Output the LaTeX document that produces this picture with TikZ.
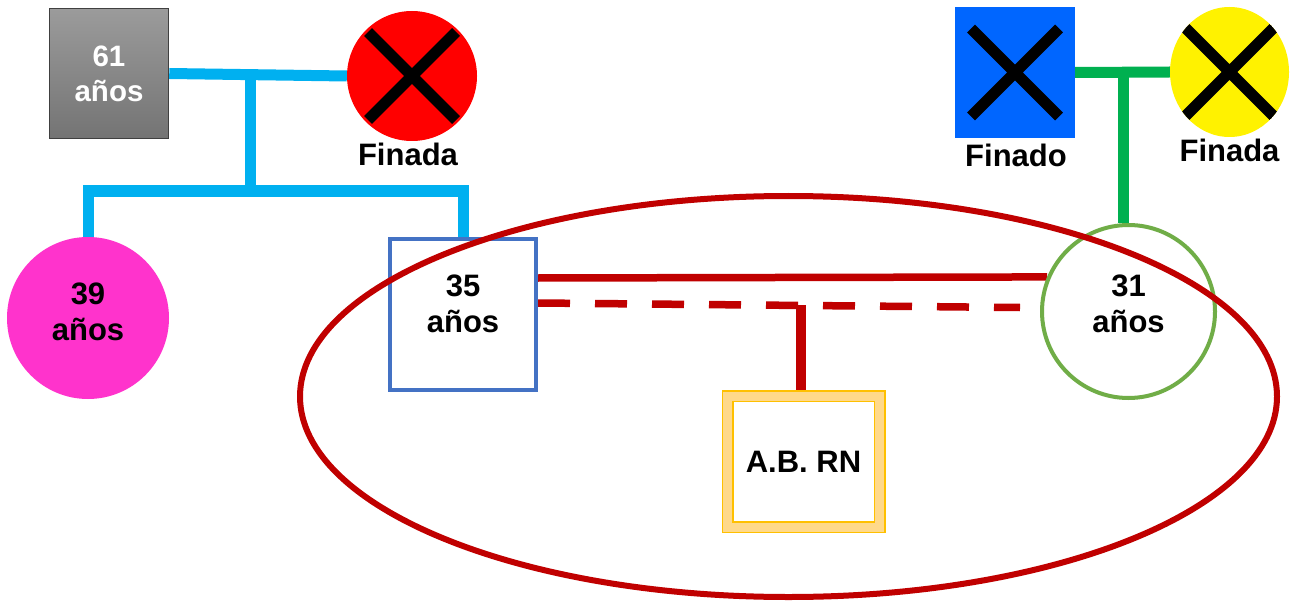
\documentclass[tikz,border=0pt]{standalone}
\usepackage{fontspec}
\setmainfont{Liberation Sans}
\usetikzlibrary{shapes.geometric,calc,backgrounds}
\definecolor{famblue}{HTML}{00B0F0}
\definecolor{famgreen}{HTML}{00B050}
\definecolor{darkred}{HTML}{C00000}
\definecolor{boxblue}{HTML}{4472C4}
\definecolor{circgreen}{HTML}{70AD47}
\definecolor{pinkc}{HTML}{FF33CC}
\definecolor{bluesq}{HTML}{0066FF}
\definecolor{gold}{HTML}{FFC000}
\definecolor{goldlight}{HTML}{FFD98A}
\definecolor{greytop}{HTML}{9B9B9B}
\definecolor{greybot}{HTML}{747474}
\begin{document}
\begin{tikzpicture}[x=1pt,y=-1pt,
  agetxt/.style={font=\fontsize{31}{36}\selectfont\bfseries, align=center, text=black, inner sep=0pt},
  lbl/.style={font=\fontsize{31}{36}\selectfont\bfseries, text=black, inner sep=0pt},
  crossed/.style={path picture={\draw[line width=11pt,black]
      ($(path picture bounding box.center)+(-44,-44)$) -- ($(path picture bounding box.center)+(44,44)$)
      ($(path picture bounding box.center)+(44,-44)$) -- ($(path picture bounding box.center)+(-44,44)$);}},
  famline/.style={line width=11pt},
  redline/.style={line width=7.5pt, darkred}]
\useasboundingbox (0,0) rectangle (1300,604);

% persons
\node[rectangle, draw=black!75, line width=1.5pt, top color=greytop, bottom color=greybot,
      minimum width=119pt, minimum height=130pt, inner sep=0pt,
      font=\fontsize{29.5}{35}\selectfont\bfseries, text=white, align=center] (g61) at (109,73.5) {61\\años};
\node[circle, fill=red, minimum size=130pt, inner sep=0pt, crossed] (fin1) at (412,76) {};
\node[lbl] (fin1l) at (408,154) {Finada};

\node[rectangle, fill=bluesq, minimum width=120pt, minimum height=131pt, inner sep=0pt, crossed] (fin2) at (1015,72.5) {};
\node[lbl] (fin2l) at (1016,155) {Finado};
\node[ellipse, fill=yellow, minimum width=119pt, minimum height=130pt, inner sep=0pt, crossed] (fin3) at (1229.5,72) {};
\node[lbl] (fin3l) at (1229.5,150) {Finada};

\node[circle, fill=pinkc, minimum size=162pt, inner sep=0pt,
      label={[agetxt,yshift=6.5pt,name=p39t]center:39\\años}] (p39) at (88,318) {};
\node[rectangle, draw=boxblue, line width=4pt, fill=white, minimum width=146pt, minimum height=151pt, inner sep=0pt,
      label={[agetxt,yshift=11pt,name=b35t]center:35\\años}] (b35) at (463,314.5) {};
\node[circle, draw=circgreen, line width=4pt, fill=white, minimum size=173pt, inner sep=0pt,
      label={[agetxt,yshift=8pt,name=g31t]center:31\\años}] (g31) at (1128.5,311.5) {};
\node[rectangle, draw=gold, line width=1.5pt, double=goldlight, double distance=9pt, fill=white,
      minimum width=152pt, minimum height=131pt, inner sep=0pt, lbl] (ab) at (803.5,461.5) {A.B. RN};

% group ellipse
\node[ellipse, draw=darkred, line width=6pt, minimum width=977pt, minimum height=401pt, inner sep=0pt] (grp) at (788.5,396.5) {};

% connectors
\begin{pgfonlayer}{background}
\fill[white] (0,0) rectangle (1300,604);
\coordinate (j1) at ($(g61.east)!0.46!(fin1.west)$);
\coordinate (sib) at (j1 |- 0,191);
\draw[famline,famblue] (g61.east) -- (fin1.west);
\draw[famline,famblue] (j1) -- (sib);
\draw[famline,famblue] (p39.north) -- (p39.north |- sib) -- (b35.north |- sib) -- (b35.north);

\coordinate (j2) at ($(fin2.east)!0.515!(fin3.west)$);
\draw[famline,famgreen] (fin2.east) -- (fin3.west);
\draw[famline,famgreen] (j2) -- (j2 |- g31.north);

\draw[redline] ([yshift=36.5pt]b35.east) -- (g31.157);
\coordinate (dA) at ([yshift=11.5pt]b35.east);
\coordinate (dB) at ([xshift=-20pt,yshift=4pt]g31.west);
\draw[redline, dash pattern=on 32pt off 25pt] (dA) -- (dB);
\coordinate (jc) at ($(dA)!0.545!(dB)$);
\draw[redline, line width=10pt] (jc) -- (jc |- ab.north);
\end{pgfonlayer}
\end{tikzpicture}
\end{document}
